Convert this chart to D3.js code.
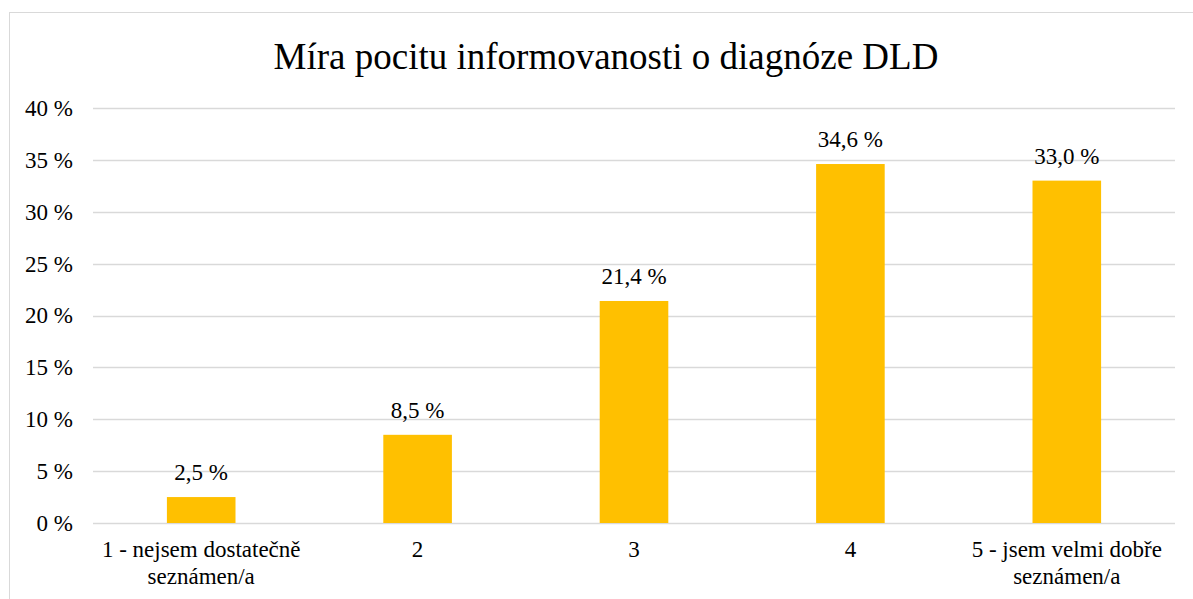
<!DOCTYPE html>
<html>
<head>
<meta charset="utf-8">
<script src="https://cdn.jsdelivr.net/npm/d3@7"></script>
</head>
<body style="margin:0">
<div id="chart"></div>
<script>
// data
var categories = ["1 - nejsem dostatečně|seznámen/a", "2", "3", "4", "5 - jsem velmi dobře|seznámen/a"];
var values = [2.5, 8.5, 21.4, 34.6, 33.0];
var yTicks = [0, 5, 10, 15, 20, 25, 30, 35, 40];

var FONT = "'Liberation Serif', 'Times New Roman', serif";

var width = 1193,
    height = 599,
    margin = {top: 108, right: 18, bottom: 76, left: 93};

var svg = d3.select("#chart")
   .append("svg")
   .attr("width", width)
   .attr("height", height);

// outer chart frame
svg.append("rect")
   .attr("x", 9.5).attr("y", 12.5)
   .attr("width", 1200).attr("height", 600)
   .attr("fill", "none")
   .attr("stroke", "#d9d9d9")
   .attr("stroke-width", 1);

svg.append("text")
   .attr("x", 606)
   .attr("y", 69)
   .attr("text-anchor", "middle")
   .style("font-family", FONT)
   .style("font-size", "37px")
   .style("fill", "#000")
   .text("Míra pocitu informovanosti o diagnóze DLD");

var plotW = width - margin.left - margin.right,
    plotH = height - margin.top - margin.bottom;

var g = svg.append("g")
   .attr("transform", `translate(${margin.left},${margin.top})`);

var xScale = d3.scaleBand().domain(categories).range([0, plotW])
   .paddingInner(0.683).paddingOuter(0.683 / 2);
var yScale = d3.scaleLinear().domain([0, 40]).range([plotH, 0]);

// gridlines
g.selectAll(".grid")
  .data(yTicks)
  .enter().append("line")
  .attr("class", "grid")
  .attr("x1", 0).attr("x2", plotW)
  .attr("y1", d => Math.round(yScale(d)) + 0.5)
  .attr("y2", d => Math.round(yScale(d)) + 0.5)
  .attr("stroke", "#d9d9d9")
  .attr("stroke-width", 1.5);

// y axis labels
var yAxis = d3.axisLeft(yScale).tickValues(yTicks).tickSize(0).tickPadding(20)
  .tickFormat(d => d + " %");
var yg = g.append("g")
  .attr("class", "y axis")
  .call(yAxis);
yg.select(".domain").remove();
yg.selectAll("text")
  .style("font-family", FONT)
  .style("font-size", "23px")
  .style("fill", "#000");

// bars
g.selectAll(".bar")
  .data(values)
  .enter().append("rect")
  .attr("class", "bar")
  .attr("x", (d, i) => xScale(categories[i]))
  .attr("y", d => yScale(d))
  .attr("width", xScale.bandwidth())
  .attr("height", d => plotH - yScale(d))
  .attr("fill", "#ffc000");

// value labels
g.selectAll(".val")
  .data(values)
  .enter().append("text")
  .attr("class", "val")
  .attr("x", (d, i) => xScale(categories[i]) + xScale.bandwidth() / 2)
  .attr("y", d => yScale(d) - 17)
  .attr("text-anchor", "middle")
  .style("font-family", FONT)
  .style("font-size", "23px")
  .style("fill", "#000")
  .text(d => d.toFixed(1).replace(".", ",") + " %");

// category labels, split on "|" into two lines
var xAxis = d3.axisBottom(xScale).tickSize(0).tickFormat("");
var xg = g.append("g")
  .attr("class", "x axis")
  .attr("transform", `translate(0,${plotH})`)
  .call(xAxis);
xg.select(".domain").remove();
xg.selectAll(".tick text").remove();
xg.selectAll(".tick").each(function(d) {
  var t = d3.select(this).append("text")
    .attr("text-anchor", "middle")
    .style("font-family", FONT)
    .style("font-size", "23px")
    .style("fill", "#000");
  d.split("|").forEach((line, k) => {
    t.append("tspan").attr("x", 0).attr("y", 34 + k * 27).text(line);
  });
});
</script>
</body>
</html>
